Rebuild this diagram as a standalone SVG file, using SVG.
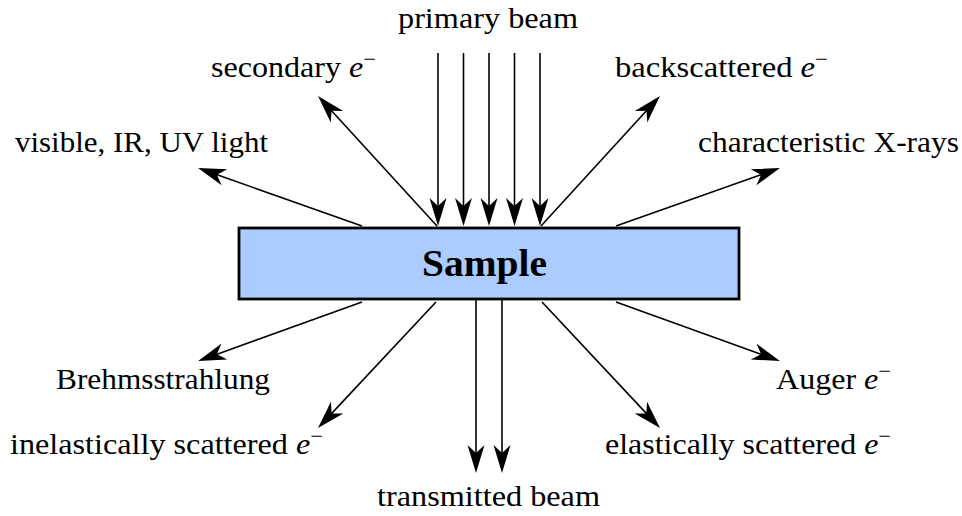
<svg xmlns="http://www.w3.org/2000/svg" width="962" height="516" viewBox="0 0 962 516">
  <style>
    .lbl { font-family: "Liberation Serif", "DejaVu Serif", serif; font-size: 30px; fill: #000; }
    .title { font-family: "Liberation Serif", "DejaVu Serif", serif; font-size: 37px; font-weight: bold; fill: #000; }
    .arr { stroke: #000; stroke-width: 1.6; fill: none; marker-end: url(#stealth); }
    .sup { font-size: 21px; }
  </style>
  <defs>
    <marker id="stealth" markerUnits="userSpaceOnUse" markerWidth="30" markerHeight="20" refX="10" refY="10" orient="auto" overflow="visible">
      <path d="M28,10 L0,1.5 L8,10 L0,18.5 Z" fill="#000"/>
    </marker>
  </defs>
  <rect width="962" height="516" fill="#fff"/>

  <g id="connectors">
    <line class="arr" x1="438" y1="53" x2="438" y2="208"/>
    <line class="arr" x1="463.5" y1="53" x2="463.5" y2="208"/>
    <line class="arr" x1="489" y1="53" x2="489" y2="208"/>
    <line class="arr" x1="514.5" y1="53" x2="514.5" y2="208"/>
    <line class="arr" x1="540" y1="53" x2="540" y2="208"/>
    <line class="arr" x1="437" y1="226" x2="330.2" y2="109.3"/>
    <line class="arr" x1="362" y1="226" x2="215" y2="174"/>
    <line class="arr" x1="541" y1="226" x2="647.8" y2="109.3"/>
    <line class="arr" x1="616" y1="226" x2="763" y2="174"/>
    <line class="arr" x1="362" y1="302" x2="215" y2="354.9"/>
    <line class="arr" x1="436" y1="302" x2="330.3" y2="414.9"/>
    <line class="arr" x1="476" y1="300" x2="476" y2="455"/>
    <line class="arr" x1="502" y1="300" x2="502" y2="455"/>
    <line class="arr" x1="542" y1="302" x2="647.7" y2="414.9"/>
    <line class="arr" x1="616" y1="302" x2="763" y2="354.9"/>
  </g>

  <g id="sample">
    <rect x="239" y="228" width="500" height="71" fill="#aaccff" stroke="#000" stroke-width="2.8"/>
    <text class="title" x="422" y="276" textLength="125" lengthAdjust="spacingAndGlyphs">Sample</text>
  </g>

  <g id="primary-beam">
    <text class="lbl" x="398" y="28" textLength="180" lengthAdjust="spacingAndGlyphs">primary beam</text>
  </g>
  <g id="secondary">
    <text class="lbl" x="211" y="77" textLength="165" lengthAdjust="spacingAndGlyphs">secondary <tspan font-style="italic">e</tspan><tspan class="sup" dy="-11">−</tspan></text>
  </g>
  <g id="backscattered">
    <text class="lbl" x="615" y="77" textLength="213" lengthAdjust="spacingAndGlyphs">backscattered <tspan font-style="italic">e</tspan><tspan class="sup" dy="-11">−</tspan></text>
  </g>
  <g id="visible-light">
    <text class="lbl" x="15" y="152" textLength="253" lengthAdjust="spacingAndGlyphs">visible, IR, UV light</text>
  </g>
  <g id="xrays">
    <text class="lbl" x="698" y="152" textLength="261" lengthAdjust="spacingAndGlyphs">characteristic X-rays</text>
  </g>
  <g id="brehmsstrahlung">
    <text class="lbl" x="56" y="389" textLength="214" lengthAdjust="spacingAndGlyphs">Brehmsstrahlung</text>
  </g>
  <g id="auger">
    <text class="lbl" x="776" y="389" textLength="115" lengthAdjust="spacingAndGlyphs">Auger <tspan font-style="italic">e</tspan><tspan class="sup" dy="-11">−</tspan></text>
  </g>
  <g id="inelastic">
    <text class="lbl" x="10" y="454" textLength="313" lengthAdjust="spacingAndGlyphs">inelastically scattered <tspan font-style="italic">e</tspan><tspan class="sup" dy="-11">−</tspan></text>
  </g>
  <g id="elastic">
    <text class="lbl" x="605" y="454" textLength="286" lengthAdjust="spacingAndGlyphs">elastically scattered <tspan font-style="italic">e</tspan><tspan class="sup" dy="-11">−</tspan></text>
  </g>
  <g id="transmitted">
    <text class="lbl" x="377" y="506" textLength="223" lengthAdjust="spacingAndGlyphs">transmitted beam</text>
  </g>
</svg>
